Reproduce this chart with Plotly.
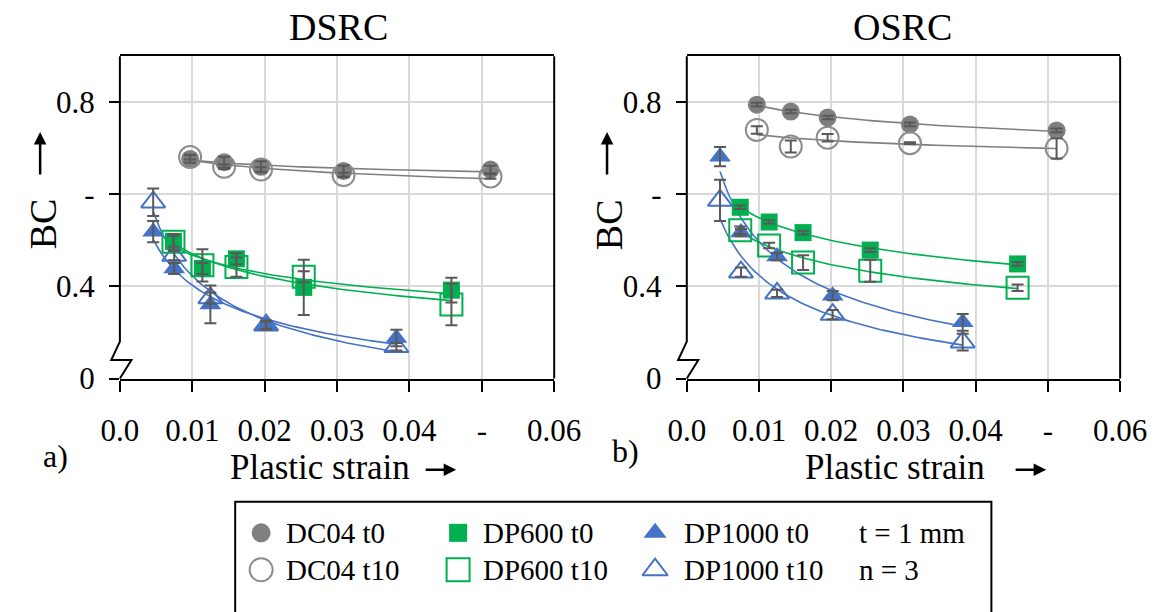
import numpy as np
import plotly.graph_objects as go

W, H = 1175, 612
FONT = "Liberation Serif"

# ---------------- data ----------------
strain_dc04 = [0.0097, 0.0144, 0.0195, 0.0309, 0.0512]
strain_dp600 = [0.0074, 0.0114, 0.0161, 0.0254, 0.0458]
strain_dp1000 = [0.0046, 0.0075, 0.0125, 0.0202, 0.0382]

# DSRC panel
dsrc_dc04_t0 = [0.677, 0.670, 0.660, 0.651, 0.654]
dsrc_dc04_t10 = [0.681, 0.660, 0.654, 0.642, 0.639]
dsrc_dp600_t0 = [0.498, 0.439, 0.460, 0.398, 0.392]
dsrc_dp600_t10 = [0.497, 0.446, 0.442, 0.421, 0.361]
dsrc_dp1000_t0 = [0.519, 0.439, 0.361, 0.316, 0.288]
dsrc_dp1000_t10 = [0.583, 0.467, 0.375, 0.316, 0.269]
dsrc_dc04_t0_err = [0.008, 0.012, 0.012, 0.012, 0.008]
dsrc_dc04_t10_err = [0.005, 0.005, 0.005, 0.005, 0.005]
dsrc_dp600_t0_err = [0.012, 0.012, 0.012, 0.060, 0.027]
dsrc_dp600_t10_err = [0.017, 0.035, 0.021, 0.012, 0.045]
dsrc_dp1000_t0_err = [0.023, 0.012, 0.041, 0.010, 0.018]
dsrc_dp1000_t10_err = [0.030, 0.010, 0.012, 0.008, 0.008]

# OSRC panel
osrc_dc04_t0 = [0.795, 0.780, 0.767, 0.752, 0.739]
osrc_dc04_t10 = [0.740, 0.704, 0.723, 0.711, 0.700]
osrc_dp600_t0 = [0.572, 0.540, 0.517, 0.479, 0.449]
osrc_dp600_t10 = [0.522, 0.489, 0.452, 0.434, 0.397]
osrc_dp1000_t0 = [0.682, 0.517, 0.465, 0.380, 0.322]
osrc_dp1000_t10 = [0.587, 0.431, 0.385, 0.339, 0.279]
osrc_dc04_t0_err = [0.004, 0.004, 0.004, 0.004, 0.004]
osrc_dc04_t10_err = [0.008, 0.013, 0.008, 0.002, 0.022]
osrc_dp600_t0_err = [0.004, 0.004, 0.004, 0.004, 0.004]
osrc_dp600_t10_err = [0.008, 0.006, 0.016, 0.024, 0.007]
osrc_dp1000_t0_err = [0.021, 0.008, 0.008, 0.010, 0.018]
osrc_dp1000_t10_err = [0.045, 0.010, 0.008, 0.010, 0.018]

x_tickvals = [0.0, 0.01, 0.02, 0.03, 0.04, 0.05, 0.06]
x_ticktext = ["0.0", "0.01", "0.02", "0.03", "0.04", "-", "0.06"]
y_tickvals = [0.2, 0.4, 0.6, 0.8]
y_ticktext = ["0", "0.4", "-", "0.8"]

panel_titles = ["DSRC", "OSRC"]
panel_letters = ["a)", "b)"]
legend_labels = [["DC04 t0", "DP600 t0", "DP1000 t0", "t = 1 mm"],
                 ["DC04 t10", "DP600 t10", "DP1000 t10", "n = 3"]]

# ---------------- styles ----------------
GRAY = "#7f7f7f"
GRAY_OPEN = "#8c8c8c"
GREEN = "#00b050"
BLUE = "#4472c4"
ERR = "#595959"
GRID = "#d9d9d9"


def px(x):
    return x / W


def py(y):
    return 1 - y / H


def power_fit(xs, ys, n=80):
    b, lna = np.polyfit(np.log(xs), np.log(ys), 1)
    xf = np.linspace(min(xs), max(xs), n)
    return xf, np.exp(lna) * xf ** b


series_style = {
    "dc04_t0": dict(symbol="circle", size=18, color=GRAY, open=False),
    "dc04_t10": dict(symbol="circle-open", size=22, color=GRAY_OPEN, open=True),
    "dp600_t0": dict(symbol="square", size=17, color=GREEN, open=False),
    "dp600_t10": dict(symbol="square-open", size=22, color=GREEN, open=True),
    "dp1000_t0": dict(symbol="triangle-up", size=19, color=BLUE, open=False),
    "dp1000_t10": dict(symbol="triangle-up-open", size=21, color=BLUE, open=True),
}
line_color = {"dc04": GRAY, "dp600": GREEN, "dp1000": BLUE}
strains = {"dc04": strain_dc04, "dp600": strain_dp600, "dp1000": strain_dp1000}

panels = [
    {
        "dc04_t0": (dsrc_dc04_t0, dsrc_dc04_t0_err),
        "dc04_t10": (dsrc_dc04_t10, dsrc_dc04_t10_err),
        "dp600_t0": (dsrc_dp600_t0, dsrc_dp600_t0_err),
        "dp600_t10": (dsrc_dp600_t10, dsrc_dp600_t10_err),
        "dp1000_t0": (dsrc_dp1000_t0, dsrc_dp1000_t0_err),
        "dp1000_t10": (dsrc_dp1000_t10, dsrc_dp1000_t10_err),
    },
    {
        "dc04_t0": (osrc_dc04_t0, osrc_dc04_t0_err),
        "dc04_t10": (osrc_dc04_t10, osrc_dc04_t10_err),
        "dp600_t0": (osrc_dp600_t0, osrc_dp600_t0_err),
        "dp600_t10": (osrc_dp600_t10, osrc_dp600_t10_err),
        "dp1000_t0": (osrc_dp1000_t0, osrc_dp1000_t0_err),
        "dp1000_t10": (osrc_dp1000_t10, osrc_dp1000_t10_err),
    },
]

fig = go.Figure()
axis_ids = [("x", "y"), ("x2", "y2")]

for (xa, ya), pdata in zip(axis_ids, panels):
    # trend lines
    for key, (vals, _) in pdata.items():
        mat = key.split("_")[0]
        xf, yf = power_fit(strains[mat], vals)
        fig.add_trace(go.Scatter(x=xf, y=yf, mode="lines", xaxis=xa, yaxis=ya,
                                 line=dict(color=line_color[mat], width=1.6),
                                 showlegend=False, hoverinfo="skip"))
    # markers
    for key, (vals, _) in pdata.items():
        mat = key.split("_")[0]
        st = series_style[key]
        mk = dict(symbol=st["symbol"], size=st["size"], color=st["color"])
        if st["open"]:
            mk["line"] = dict(color=st["color"], width=2)
        fig.add_trace(go.Scatter(x=strains[mat], y=vals, mode="markers",
                                 xaxis=xa, yaxis=ya, marker=mk,
                                 showlegend=False, cliponaxis=False))
    # error bars on top
    for key, (vals, errs) in pdata.items():
        mat = key.split("_")[0]
        fig.add_trace(go.Scatter(x=strains[mat], y=vals, mode="markers",
                                 xaxis=xa, yaxis=ya,
                                 marker=dict(size=1, color="rgba(0,0,0,0)"),
                                 error_y=dict(type="data", array=errs, visible=True,
                                              color=ERR, thickness=2, width=6),
                                 showlegend=False, hoverinfo="skip"))

# ---------------- legend (manual) ----------------
leg_rows_y = [549, 587]
leg_marker_x = [252, 457, 662]
leg_text_x = [276, 481, 690, 872]
leg_keys = [["dc04_t0", "dp600_t0", "dp1000_t0"], ["dc04_t10", "dp600_t10", "dp1000_t10"]]
for r, row in enumerate(leg_keys):
    for c, key in enumerate(row):
        st = series_style[key]
        mk = dict(symbol=st["symbol"], size=st["size"] + 1, color=st["color"])
        if st["open"]:
            mk["line"] = dict(color=st["color"], width=2)
        fig.add_trace(go.Scatter(x=[leg_marker_x[c]], y=[leg_rows_y[r]], mode="markers",
                                 xaxis="x3", yaxis="y3", marker=mk,
                                 showlegend=False, hoverinfo="skip"))

annotations = []
for r, row in enumerate(legend_labels):
    for c, txt in enumerate(row):
        annotations.append(dict(x=px(leg_text_x[c]), y=py(leg_rows_y[r]), xref="paper", yref="paper",
                                text=txt, showarrow=False, xanchor="left", yanchor="middle",
                                font=dict(family=FONT, size=29, color="black")))

# panel texts
panel_left = [105, 695]
panel_right = [557, 1146]
title_x = [332, 919]
ylab_x = [25, 614]
yarrow_x = [22, 612]
xlab_x = [313, 912]
xarrow = [(423, 455), (1037, 1069)]
letter_pos = [(38, 470), (631, 465)]
for i in range(2):
    annotations.append(dict(x=px(title_x[i]), y=py(28), xref="paper", yref="paper",
                            text=panel_titles[i], showarrow=False, xanchor="center", yanchor="middle",
                            font=dict(family=FONT, size=38, color="black")))
    annotations.append(dict(x=px(ylab_x[i]), y=py(231), xref="paper", yref="paper",
                            text="BC", textangle=-90, showarrow=False, xanchor="center", yanchor="middle",
                            font=dict(family=FONT, size=38, color="black")))
    annotations.append(dict(x=px(yarrow_x[i]), y=py(136), xref="paper", yref="paper",
                            text="", showarrow=True, ax=0, ay=44, axref="pixel", ayref="pixel",
                            arrowhead=2, arrowsize=1, arrowwidth=2.5, arrowcolor="black", standoff=0))
    annotations.append(dict(x=px(xlab_x[i]), y=py(482), xref="paper", yref="paper",
                            text="Plastic strain", showarrow=False, xanchor="center", yanchor="middle",
                            font=dict(family=FONT, size=35, color="black")))
    annotations.append(dict(x=px(xarrow[i][1]), y=py(484), xref="paper", yref="paper",
                            text="", showarrow=True, ax=-(xarrow[i][1] - xarrow[i][0]), ay=0,
                            axref="pixel", ayref="pixel",
                            arrowhead=2, arrowsize=1, arrowwidth=2.5, arrowcolor="black", standoff=0))
    annotations.append(dict(x=px(letter_pos[i][0]), y=py(letter_pos[i][1]), xref="paper", yref="paper",
                            text=panel_letters[i], showarrow=False, xanchor="center", yanchor="middle",
                            font=dict(family=FONT, size=32, color="black")))

# shapes: left axis with break, right border, legend box
shapes = []
TOP, BOT = 58, 390
for i in range(2):
    x0 = panel_left[i]
    path = "M {a},{b} L {a},{c} L {d},{e} L {f},{e} L {a},{g}".format(
        a=px(x0), b=py(TOP), c=py(352), d=px(x0 - 9), e=py(371), f=px(x0 + 12), g=py(BOT))
    shapes.append(dict(type="path", path=path, xref="paper", yref="paper",
                       line=dict(color="black", width=2)))
    shapes.append(dict(type="line", x0=px(panel_right[i]), x1=px(panel_right[i]),
                       y0=py(TOP), y1=py(BOT), xref="paper", yref="paper",
                       line=dict(color="black", width=2)))
shapes.append(dict(type="rect", x0=px(225), x1=px(1012), y0=py(517), y1=py(640),
                   xref="paper", yref="paper", line=dict(color="black", width=2)))

tickfont = dict(family=FONT, size=31, color="black")


def xaxis_cfg(domain, anchor):
    return dict(domain=domain, anchor=anchor, range=[0, 0.06], tickmode="array",
                tickvals=x_tickvals, ticktext=x_ticktext, showgrid=True, gridcolor=GRID,
                gridwidth=2, showline=True, linecolor="black", linewidth=2, mirror=True,
                ticks="outside", ticklen=11, tickwidth=2, tickcolor="black", zeroline=False,
                tickfont=tickfont, ticklabelstandoff=12, fixedrange=True)


def yaxis_cfg(anchor):
    return dict(domain=[py(BOT), py(TOP)], anchor=anchor, range=[0.2, 0.9], tickmode="array",
                tickvals=y_tickvals, ticktext=y_ticktext, showgrid=True, gridcolor=GRID,
                gridwidth=2, showline=False, ticks="outside", ticklen=10, tickwidth=2,
                tickcolor="black", zeroline=False, tickfont=tickfont, ticklabelstandoff=8,
                fixedrange=True)


fig.update_layout(
    width=W, height=H, margin=dict(l=0, r=0, t=0, b=0),
    paper_bgcolor="white", plot_bgcolor="rgba(0,0,0,0)",
    showlegend=False,
    font=dict(family=FONT, color="black"),
    xaxis=xaxis_cfg([px(105), px(557)], "y"),
    yaxis=yaxis_cfg("x"),
    xaxis2=xaxis_cfg([px(695), px(1146)], "y2"),
    yaxis2=yaxis_cfg("x2"),
    xaxis3=dict(domain=[0, 1], anchor="y3", range=[0, W], visible=False, fixedrange=True),
    yaxis3=dict(domain=[0, 1], anchor="x3", range=[H, 0], visible=False, fixedrange=True),
    annotations=annotations,
    shapes=shapes,
)

fig.write_html("out.html")
